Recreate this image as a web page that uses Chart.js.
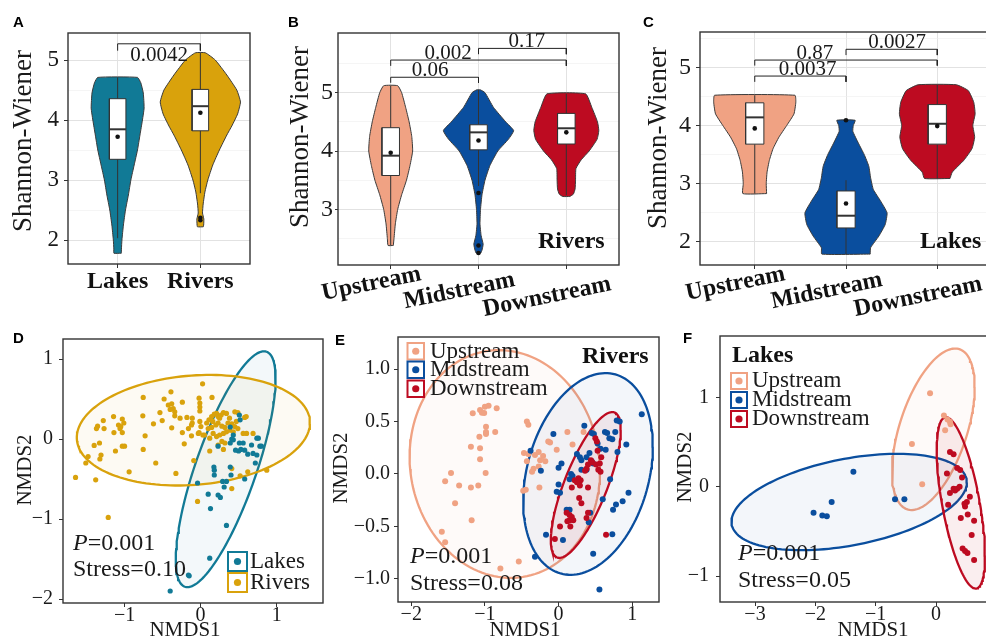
<!DOCTYPE html>
<html>
<head>
<meta charset="utf-8">
<script src="https://cdn.jsdelivr.net/npm/chart.js@4.4.1/dist/chart.umd.min.js"></script>
<style>
  html, body { margin:0; padding:0; background:#fff; }
  body { width:986px; height:640px; overflow:hidden; position:relative; }
  canvas { position:absolute; display:block; }
</style>
</head>
<body>
<canvas id="cA"></canvas><canvas id="cB"></canvas><canvas id="cC"></canvas>
<canvas id="cD"></canvas><canvas id="cE"></canvas><canvas id="cF"></canvas>
<script>
// ================= DATA =================
// ---- Panel A : Lakes vs Rivers (Shannon-Wiener)
const catsA = ['Lakes', 'Rivers'];
const yTicksA = [2, 3, 4, 5];
const yMinorA = [2.5, 3.5, 4.5];
const vioLakesY = [1.78, 1.85, 2.0, 2.25, 2.5, 2.75, 3.0, 3.25, 3.5, 3.75, 4.0, 4.2, 4.45, 4.62, 4.71];
const vioLakesW = [0.045, 0.046, 0.052, 0.07, 0.095, 0.13, 0.16, 0.20, 0.24, 0.27, 0.30, 0.32, 0.31, 0.28, 0.24];
const vioRiversY = [2.22, 2.25, 2.35, 2.45, 2.6, 2.8, 3.0, 3.25, 3.5, 3.75, 3.9, 4.1, 4.3, 4.5, 4.75, 5.0, 5.12];
const vioRiversW = [0.035, 0.04, 0.042, 0.026, 0.034, 0.055, 0.09, 0.15, 0.23, 0.32, 0.38, 0.45, 0.485, 0.44, 0.32, 0.18, 0.06];
// box stats: [lower whisker, Q1, median, Q3, upper whisker, mean]
const boxLakes = [2.03, 3.345, 3.845, 4.355, 4.71, 3.72];
const boxRivers = [2.78, 3.82, 4.23, 4.51, 5.12, 4.12];
const outLakes = [];
const outRivers = [2.37, 2.33];
// significance: [group1, group2, bracket y, tick end y, label, label x, label baseline y]
const sigA = [[1, 2, 5.27, 5.155, '0.0042', 1.5, 4.98]];

// ---- Panel B : Rivers by reach
const catsB = ['Upstream', 'Midstream', 'Downstream'];
const yTicksB = [3, 4, 5];
const yMinorB = [2.5, 3.5, 4.5, 5.5];
const vioUpBY = [2.38, 2.5, 2.75, 3.0, 3.25, 3.5, 3.75, 4.0, 4.25, 4.5, 4.75, 5.0, 5.12];
const vioUpBW = [0.03, 0.038, 0.053, 0.08, 0.125, 0.18, 0.22, 0.25, 0.24, 0.21, 0.17, 0.125, 0.08];
const vioMidBY = [2.25, 2.3, 2.4, 2.55, 2.75, 3.0, 3.25, 3.5, 3.75, 4.0, 4.2, 4.35, 4.5, 4.75, 5.0, 5.05];
const vioMidBW = [0.027, 0.04, 0.053, 0.03, 0.017, 0.023, 0.04, 0.074, 0.13, 0.22, 0.34, 0.40, 0.31, 0.17, 0.074, 0.02];
const vioDownBY = [3.22, 3.26, 3.35, 3.5, 3.7, 3.85, 4.0, 4.2, 4.35, 4.5, 4.75, 4.98];
const vioDownBW = [0.04, 0.08, 0.1, 0.105, 0.11, 0.17, 0.26, 0.35, 0.37, 0.355, 0.29, 0.22];
const boxUpB = [2.38, 3.58, 3.92, 4.40, 5.12, 3.97];
const boxMidB = [3.4, 4.02, 4.32, 4.45, 5.05, 4.18];
const boxDownB = [3.24, 4.12, 4.39, 4.645, 4.98, 4.32];
const outUpB = [];
const outMidB = [3.28, 2.38, 2.25];
const outDownB = [];
const sigB = [[1, 2, 5.265, 5.17, '0.06', 1.448, 5.285], [1, 3, 5.56, 5.46, '0.002', 1.653, 5.58], [2, 3, 5.76, 5.66, '0.17', 2.55, 5.78]];

// ---- Panel C : Lakes by reach
const catsC = ['Upstream', 'Midstream', 'Downstream'];
const yTicksC = [2, 3, 4, 5];
const yMinorC = [2.5, 3.5, 4.5, 5.5];
const vioUpCY = [2.83, 3.0, 3.2, 3.4, 3.6, 3.8, 4.0, 4.2, 4.4, 4.52];
const vioUpCW = [0.13, 0.126, 0.135, 0.16, 0.2, 0.265, 0.35, 0.43, 0.45, 0.44];
const vioMidCY = [1.79, 1.9, 2.1, 2.3, 2.5, 2.7, 2.9, 3.1, 3.3, 3.5, 3.7, 3.9, 4.0, 4.09];
const vioMidCW = [0.265, 0.27, 0.36, 0.43, 0.45, 0.38, 0.30, 0.27, 0.25, 0.20, 0.135, 0.075, 0.08, 0.10];
const vioDownCY = [3.09, 3.2, 3.4, 3.6, 3.8, 4.0, 4.2, 4.4, 4.6, 4.70];
const vioDownCW = [0.14, 0.165, 0.29, 0.38, 0.41, 0.39, 0.415, 0.40, 0.34, 0.21];
const boxUpC = [2.83, 3.68, 4.14, 4.39, 4.52, 3.95];
const boxMidC = [1.79, 2.24, 2.45, 2.875, 3.06, 2.66];
const boxDownC = [3.09, 3.68, 4.03, 4.36, 4.70, 3.99];
const outUpC = [];
const outMidC = [4.09];
const outDownC = [];
const sigC = [[1, 2, 4.85, 4.75, '0.0037', 1.58, 4.87], [1, 3, 5.125, 5.03, '0.87', 1.66, 5.145], [2, 3, 5.31, 5.21, '0.0027', 2.56, 5.33]];

// ---- Panel D : NMDS all sites
const xTicksD = [-1, 0, 1];
const yTicksD = [-2, -1, 0, 1];
const dRivers = [[-1.645,-0.48],[-1.38,-0.51],[-1.51,-0.30],[-1.48,-0.22],[-1.325,-0.25],[-1.31,-0.20],[-1.40,-0.08],[-1.33,-0.05],[-1.37,0.13],[-1.355,0.16],[-1.27,0.13],[-1.28,0.23],[-1.145,0.28],[-1.14,0.08],[-1.08,0.175],[-1.05,0.155],[-1.03,0.25],[-1.01,0.20],[-1.03,0.08],[-1.06,0.13],[-1.12,-0.15],[-1.03,-0.09],[-1.00,-0.09],[-0.94,-0.41],[-0.755,0.52],[-0.76,0.29],[-0.73,0.04],[-0.755,-0.13],[-0.59,-0.30],[-0.62,0.19],[-0.535,0.33],[-0.505,0.23],[-0.48,0.50],[-0.39,0.59],[-0.425,0.425],[-0.38,0.44],[-0.36,0.38],[-0.34,0.34],[-0.40,0.37],[-0.24,0.46],[-0.34,0.29],[-0.38,0.14],[-0.27,0.26],[-0.18,0.27],[-0.24,0.08],[-0.215,-0.06],[-0.16,0.13],[-0.12,0.175],[-0.11,0.26],[-0.12,0.04],[-0.325,-0.43],[-0.09,-0.27],[-0.04,-0.78],[-1.215,-0.98],
  [0.026,0.69],[-0.02,0.51],[-0.01,0.45],[-0.01,0.40],[-0.01,0.35],[0.15,0.52],[-0.11,0.20],[-0.01,0.22],[0.004,0.155],[-0.02,0.08],[0.05,0.05],[0.08,0.20],[0.11,0.24],[0.145,0.28],[0.18,0.31],[0.21,0.32],[0.23,0.28],[0.27,0.30],[0.30,0.33],[0.34,0.32],[0.45,0.34],[0.49,0.33],[0.58,0.27],[0.10,0.13],[0.145,0.145],[0.20,0.175],[0.23,0.20],[0.28,0.16],[0.32,0.145],[0.36,0.20],[0.41,0.19],[0.45,0.155],[0.49,0.13],[0.47,0.22],[0.165,0.07],[0.21,0.03],[0.25,0.05],[0.30,0.07],[0.34,0.09],[0.385,0.11],[0.43,0.09],[0.12,0.01],[0.03,0.05],[-0.03,0.07],[0.28,-0.03],[0.32,-0.05],[0.23,-0.075],[0.12,-0.15],[0.30,-0.13],[0.41,-0.37],[0.52,-0.46],[0.62,-0.41],[0.41,-0.62],[0.60,0.28],[0.605,0.07],[0.87,-0.39],[0.69,0.07],[0.56,0.07],[0.25,0.26],[0.38,0.26],[0.16,0.22]];
const dLakes = [[0.51,0.30],[0.52,0.24],[0.39,0.15],[0.43,0.05],[0.41,0.00],[0.39,-0.05],[0.23,-0.09],[0.51,-0.05],[0.76,0.01],[0.78,-0.09],[0.67,-0.075],[0.74,-0.20],[0.72,-0.30],[0.58,-0.14],[0.50,-0.15],[0.175,-0.35],[0.18,-0.45],[0.39,-0.35],[0.40,-0.45],[0.29,-0.53],[0.34,-0.53],[0.10,-0.69],[0.23,-0.70],[0.26,-0.73],[-0.04,-0.55],[0.13,-0.87],[0.34,-1.08],[0.12,-1.49],[-0.16,-1.70],[-0.15,-1.71],[-0.40,-1.90],[0.56,-0.05],[0.80,-0.09],[0.53,-0.13],[0.46,-0.14],[0.62,-0.19],[0.69,-0.18],[0.31,-0.60],[0.58,-0.50],[0.74,0.01],[0.43,-0.01],[0.18,-0.39]];
// ellipse: [centre x, centre y, axis-1 dx, axis-1 dy, axis-2 dx, axis-2 dy]
const ellRiversD = [-0.095, 0.11, 1.533, 0.076, 0.038, 0.687];
const ellLakesD = [0.33, -0.378, 0.537, 1.469, 0.378, -0.125];

// ---- Panel E : NMDS rivers
const xTicksE = [-2, -1, 0, 1];
const yTicksE = [-1, -0.5, 0, 0.5, 1];
const eUp = [[-1.165,0.578],[-1.066,0.61],[-1.04,0.584],[-1.00,0.64],[-0.95,0.65],[-1.01,0.58],[-0.84,0.625],[-0.985,0.45],[-0.985,0.40],[-0.985,0.38],[-0.86,0.40],[-1.075,0.355],[-1.19,0.26],[-1.066,0.245],[-1.066,0.14],[-0.99,0.01],[-1.09,-0.11],[-1.19,-0.13],[-1.35,-0.11],[-1.46,0.01],[-1.54,-0.07],[-1.405,-0.28],[-1.18,-0.44],[-1.585,-0.55],[-1.54,-0.65],[-0.79,-0.90],[-0.54,-0.835],[-0.43,0.50],[-0.41,0.47],[-0.47,0.20],[-0.43,0.12],[-0.445,-0.15],[-0.115,0.30],[-0.025,0.23],[0.12,0.40],[0.34,0.40],[0.19,0.28],[-0.41,0.19],[-0.32,0.18],[-0.27,0.21],[-0.21,0.17],[-0.25,0.13],[-0.18,0.12],[-0.34,0.05],[-0.36,0.02],[-0.27,0.07],[-0.26,-0.13],[-0.14,0.31],[-0.48,-0.16]];
const eMid = [[1.13,0.57],[0.79,0.51],[0.83,0.50],[0.35,0.46],[-0.07,0.38],[0.45,0.39],[0.48,0.38],[0.63,0.40],[0.66,0.39],[0.77,0.40],[0.69,0.34],[0.73,0.33],[0.53,0.29],[0.57,0.24],[0.92,0.28],[0.80,0.21],[0.64,0.23],[0.25,0.19],[0.29,0.16],[0.31,0.13],[0.42,0.20],[0.45,0.12],[0.47,0.10],[0.38,0.16],[-0.38,0.22],[0.04,0.10],[0.00,0.06],[-0.24,0.03],[0.31,0.04],[0.38,0.04],[0.17,0.00],[0.19,-0.02],[0.15,-0.05],[0.00,-0.10],[0.70,-0.05],[-0.025,-0.17],[0.02,-0.18],[0.60,-0.24],[0.95,-0.18],[0.87,-0.26],[0.78,-0.29],[0.74,-0.34],[0.11,-0.34],[0.15,-0.34],[0.43,-0.37],[0.41,-0.46],[-0.17,-0.58],[0.06,-0.63],[0.73,-0.575],[0.47,-0.76],[-0.32,-0.79],[0.555,-1.10]];
const eDown = [[0.50,0.34],[0.52,0.31],[0.53,0.22],[0.58,0.16],[0.44,0.13],[0.46,0.11],[0.40,0.09],[0.51,0.09],[0.56,0.10],[0.54,0.04],[0.57,0.02],[0.38,0.05],[0.36,0.03],[0.27,-0.04],[0.30,-0.06],[0.22,-0.06],[0.25,-0.08],[0.18,-0.13],[0.29,-0.11],[0.40,-0.13],[0.28,-0.23],[0.31,-0.28],[0.11,-0.37],[0.15,-0.39],[0.18,-0.41],[0.15,-0.44],[0.12,-0.45],[0.20,-0.44],[0.40,-0.37],[0.38,-0.42],[0.02,-0.50],[0.16,-0.50],[-0.05,-0.62],[0.645,-0.58]];
const ellUpE = [-0.73, 0.095, 1.29, 0.0, -0.08, 1.085];
const ellMidE = [0.40, 0.0, 0.88, 0.26, 0.0, 0.925];
const ellDownE = [0.37, -0.105, 0.475, 0.525, 0.0, 0.455];

// ---- Panel F : NMDS lakes
const xTicksF = [-3, -2, -1, 0, 1];
const yTicksF = [-1, 0, 1];
const fUp = [[-0.10,1.05],[0.13,0.80],[0.23,0.73],[0.24,0.70],[0.15,0.635],[-0.40,0.48],[-0.23,0.03],[0.19,0.755]];
const fMid = [[-1.37,0.17],[-1.73,-0.17],[-2.03,-0.29],[-1.885,-0.32],[-1.81,-0.33],[-0.68,-0.14],[-0.525,-0.14]];
const fDown = [[0.23,0.39],[0.29,0.366],[0.18,0.15],[0.35,0.21],[0.40,0.19],[0.43,0.105],[0.29,-0.02],[0.315,-0.04],[0.35,-0.02],[0.39,0.0],[0.23,-0.07],[0.20,-0.20],[0.56,-0.11],[0.51,-0.17],[0.48,-0.22],[0.47,-0.19],[0.41,-0.35],[0.525,-0.31],[0.63,-0.38],[0.59,-0.54],[0.44,-0.69],[0.48,-0.72],[0.52,-0.74],[0.63,-0.82]];
const ellUpF = [-0.045, 0.645, 0.685, 0.475, 0.0, 0.77];
const ellMidF = [-1.44, -0.17, 1.95, 0.22, 0.0, 0.493];
const ellDownF = [0.41, -0.18, 0.40, -0.59, 0.0, 0.757];

// ================= STYLE =================
const SERIF = "'Liberation Serif','Times New Roman',serif";
const SANS = "'Liberation Sans',Arial,sans-serif";
const INK = '#1a1a1a';
const C_LAKES = '#117A96', C_RIVERS = '#D9A20C';
const C_UP = '#F0A283', C_MID = '#0A4E9E', C_DOWN = '#BD0B21';
Chart.defaults.font.family = SERIF;

function rgba(hex, a) {
  const n = parseInt(hex.slice(1), 16);
  return `rgba(${(n >> 16) & 255},${(n >> 8) & 255},${n & 255},${a})`;
}
const fmtInt = v => (v < 0 ? '\u2212' : '') + Math.abs(v);
const fmt1 = v => (v < 0 ? '\u2212' : '') + Math.abs(v).toFixed(1);

// ================= BUILDERS =================
function violin(c, ys, ws, color) {
  const p = [];
  for (let i = 0; i < ys.length; i++) p.push({x: c + ws[i], y: ys[i]});
  for (let i = ys.length - 1; i >= 0; i--) p.push({x: c - ws[i], y: ys[i]});
  p.push(p[0]);
  return {data: p, showLine: true, fill: 'shape', backgroundColor: color, borderColor: '#3a3a3a',
          borderWidth: 1, pointRadius: 0, tension: 0.15, borderJoinStyle: 'round', order: 6};
}
function boxSets(c, b, outs) {
  const hw = 0.1;
  const [lo, q1, med, q3, hi, mean] = b;
  return [
    {data: [{x: c, y: lo}, {x: c, y: hi}], showLine: true, borderColor: '#333', borderWidth: 1, pointRadius: 0, order: 4},
    {data: [{x: c - hw, y: q1}, {x: c + hw, y: q1}, {x: c + hw, y: q3}, {x: c - hw, y: q3}, {x: c - hw, y: q1}],
     showLine: true, fill: 'shape', backgroundColor: '#ffffff', borderColor: '#333', borderWidth: 1, pointRadius: 0, order: 3},
    {data: [{x: c - hw, y: med}, {x: c + hw, y: med}], showLine: true, borderColor: '#333', borderWidth: 2, pointRadius: 0, order: 2},
    {data: [{x: c, y: mean}].concat(outs.map(o => ({x: c, y: o}))), showLine: false, pointRadius: 2.3,
     pointBackgroundColor: '#111', pointBorderWidth: 0, order: 1}
  ];
}
function bracket(s) {
  return {data: [{x: s[0], y: s[3]}, {x: s[0], y: s[2]}, {x: s[1], y: s[2]}, {x: s[1], y: s[3]}],
          showLine: true, borderColor: '#222', borderWidth: 1, pointRadius: 0, order: 1};
}
function ellipse(e, color, a) {
  const [cx, cy, ux, uy, vx, vy] = e;
  const p = [];
  for (let k = 0; k <= 144; k++) {
    const t = k / 144 * 2 * Math.PI;
    p.push({x: cx + ux * Math.cos(t) + vx * Math.sin(t), y: cy + uy * Math.cos(t) + vy * Math.sin(t)});
  }
  return {data: p, showLine: true, fill: 'shape', backgroundColor: rgba(color, a), borderColor: color,
          borderWidth: 2.3, pointRadius: 0, order: 5};
}
function dots(arr, color, r, order) {
  return {data: arr.map(q => ({x: q[0], y: q[1]})), showLine: false, pointRadius: r,
          pointBackgroundColor: color, pointBorderColor: color, pointBorderWidth: 0, order};
}
function axisCfg(o) {
  const major = o.ticks, all = major.concat(o.minor || []).sort((a, b) => a - b);
  const isMaj = v => major.includes(v);
  return {
    min: o.min, max: o.max,
    afterBuildTicks: s => { s.ticks = all.map(v => ({value: v})); },
    ticks: {display: o.show !== false, autoSkip: false, maxRotation: 0, minRotation: 0, padding: o.pad,
            color: INK, font: {family: SERIF, size: o.size}, callback: v => isMaj(v) ? o.fmt(v) : ''},
    grid: o.grid ? {
      color: c => (c.tick && isMaj(c.tick.value)) ? '#e2e2e2' : '#efefef',
      lineWidth: c => (c.tick && isMaj(c.tick.value)) ? 1 : 0.6,
      tickColor: c => (c.tick && isMaj(c.tick.value)) ? '#333' : 'rgba(0,0,0,0)',
      tickLength: o.tl, tickWidth: 1
    } : {drawOnChartArea: false, tickColor: '#333', tickLength: o.tl, tickWidth: 1}
  };
}
function makeChart(id, box, area, xs, ys, datasets, decor) {
  const [ox, oy, w, h] = box;
  const cv = document.getElementById(id);
  cv.width = w; cv.height = h;
  Object.assign(cv.style, {left: ox + 'px', top: oy + 'px', width: w + 'px', height: h + 'px'});
  const L = area[0] - ox, T = area[1] - oy, R = ox + w - area[2], Bm = oy + h - area[3];
  const zero = s => { s.paddingLeft = s.paddingRight = s.paddingTop = s.paddingBottom = 0; };
  return new Chart(cv, {
    type: 'scatter',
    data: {datasets},
    options: {
      responsive: false, animation: false, devicePixelRatio: 1, events: [],
      layout: {padding: {left: 0, top: T, right: R, bottom: 0}, autoPadding: false},
      plugins: {legend: {display: false}, tooltip: {enabled: false}},
      scales: {
        x: Object.assign({type: 'linear', position: 'bottom', border: {display: false},
                          afterFit: s => { s.height = Bm; zero(s); }}, xs),
        y: Object.assign({type: 'linear', position: 'left', border: {display: false},
                          afterFit: s => { s.width = L; zero(s); }}, ys)
      }
    },
    plugins: [{id: 'decor' + id, afterDraw(chart) { decor(chart, chart.ctx, ox, oy); }}]
  });
}

// ================= DRAW HELPERS =================
function T(ctx, ox, oy, s, x, y, o) {
  o = o || {};
  ctx.save();
  ctx.font = o.font || `22px ${SERIF}`;
  ctx.fillStyle = o.color || INK;
  ctx.textAlign = o.align || 'left';
  ctx.textBaseline = o.base || 'alphabetic';
  ctx.translate(x - ox, y - oy);
  if (o.rot) ctx.rotate(o.rot);
  ctx.fillText(s, 0, 0);
  ctx.restore();
}
function frame(chart, ctx) {
  const a = chart.chartArea;
  ctx.save(); ctx.strokeStyle = '#333'; ctx.lineWidth = 1.4;
  ctx.strokeRect(a.left, a.top, a.right - a.left, a.bottom - a.top); ctx.restore();
}
function sigLabels(chart, ctx, sig) {
  const xs = chart.scales.x, ys = chart.scales.y;
  sig.forEach(s => T(ctx, 0, 0, s[4], xs.getPixelForValue(s[5]), ys.getPixelForValue(s[6]),
                     {font: `21px ${SERIF}`, align: 'center'}));
}
function slantLabels(chart, ctx, cats, oy) {
  const xs = chart.scales.x;
  const dy = [290, 297, 303];
  cats.forEach((c, i) => T(ctx, 0, oy, c, xs.getPixelForValue(i + 1) - 18, dy[i],
      {font: `bold 24px ${SERIF}`, align: 'center', color: '#111', rot: -11.5 * Math.PI / 180}));
}
function pStress(ctx, ox, oy, x, y1, y2, stress) {
  ctx.save();
  ctx.font = `italic 24px ${SERIF}`;
  const wP = ctx.measureText('P').width;
  ctx.restore();
  T(ctx, ox, oy, 'P', x, y1, {font: `italic 24px ${SERIF}`});
  T(ctx, ox, oy, '=0.001', x + wP, y1, {font: `24px ${SERIF}`});
  T(ctx, ox, oy, 'Stress=' + stress, x, y2, {font: `24px ${SERIF}`});
}
function legBox(ctx, ox, oy, x, y, s, color) {
  ctx.save();
  ctx.strokeStyle = color; ctx.lineWidth = 2;
  ctx.strokeRect(x - ox, y - oy, s, s);
  ctx.fillStyle = color; ctx.beginPath();
  ctx.arc(x - ox + s / 2, y - oy + s / 2, 3.6, 0, Math.PI * 2); ctx.fill();
  ctx.restore();
}
const ROT90 = -Math.PI / 2;

// ================= PANEL A =================
makeChart('cA', [0, 0, 256, 320], [68, 33, 250, 264],
  axisCfg({min: 0.4, max: 2.6, ticks: [1, 2], fmt: v => catsA[v - 1], size: 24, pad: 4, tl: 4, grid: true, show: false}),
  axisCfg({min: 1.6, max: 5.45, ticks: yTicksA, minor: yMinorA, fmt: fmtInt, size: 23, pad: 5, tl: 4, grid: true}),
  [violin(1, vioLakesY, vioLakesW, C_LAKES), violin(2, vioRiversY, vioRiversW, C_RIVERS)]
    .concat(boxSets(1, boxLakes, outLakes), boxSets(2, boxRivers, outRivers), sigA.map(bracket)),
  (chart, ctx, ox, oy) => {
    frame(chart, ctx);
    T(ctx, ox, oy, 'A', 13, 27, {font: `bold 15px ${SANS}`, color: '#000'});
    T(ctx, ox, oy, 'Shannon-Wiener', 24, 141, {font: `27px ${SERIF}`, align: 'center', base: 'middle', rot: ROT90});
    const xs = chart.scales.x;
    catsA.forEach((c, i) => T(ctx, 0, oy, c, xs.getPixelForValue(i + 1), 288, {font: `bold 24px ${SERIF}`, align: 'center', color: '#111'}));
    sigLabels(chart, ctx, sigA);
  });

// ================= PANEL B =================
makeChart('cB', [256, 0, 366, 320], [338, 33, 619, 265],
  axisCfg({min: 0.4, max: 3.6, ticks: [1, 2, 3], fmt: v => catsB[v - 1], size: 24, pad: 4, tl: 4, grid: true, show: false}),
  axisCfg({min: 2.045, max: 6.024, ticks: yTicksB, minor: yMinorB, fmt: fmtInt, size: 24, pad: 2, tl: 3, grid: true}),
  [violin(1, vioUpBY, vioUpBW, C_UP), violin(2, vioMidBY, vioMidBW, C_MID), violin(3, vioDownBY, vioDownBW, C_DOWN)]
    .concat(boxSets(1, boxUpB, outUpB), boxSets(2, boxMidB, outMidB), boxSets(3, boxDownB, outDownB), sigB.map(bracket)),
  (chart, ctx, ox, oy) => {
    frame(chart, ctx);
    T(ctx, ox, oy, 'B', 288, 27, {font: `bold 15px ${SANS}`, color: '#000'});
    T(ctx, ox, oy, 'Shannon-Wiener', 301, 137, {font: `27px ${SERIF}`, align: 'center', base: 'middle', rot: ROT90});
    slantLabels(chart, ctx, catsB, oy);
    sigLabels(chart, ctx, sigB);
    T(ctx, ox, oy, 'Rivers', 538, 248, {font: `bold 24px ${SERIF}`, color: '#111'});
  });

// ================= PANEL C =================
makeChart('cC', [622, 0, 380, 320], [700, 32, 992, 265],
  axisCfg({min: 0.4, max: 3.6, ticks: [1, 2, 3], fmt: v => catsC[v - 1], size: 24, pad: 4, tl: 4, grid: true, show: false}),
  axisCfg({min: 1.603, max: 5.607, ticks: yTicksC, minor: yMinorC, fmt: fmtInt, size: 24, pad: 5, tl: 4, grid: true}),
  [violin(1, vioUpCY, vioUpCW, C_UP), violin(2, vioMidCY, vioMidCW, C_MID), violin(3, vioDownCY, vioDownCW, C_DOWN)]
    .concat(boxSets(1, boxUpC, outUpC), boxSets(2, boxMidC, outMidC), boxSets(3, boxDownC, outDownC), sigC.map(bracket)),
  (chart, ctx, ox, oy) => {
    frame(chart, ctx);
    T(ctx, ox, oy, 'C', 643, 27, {font: `bold 15px ${SANS}`, color: '#000'});
    T(ctx, ox, oy, 'Shannon-Wiener', 659, 138, {font: `27px ${SERIF}`, align: 'center', base: 'middle', rot: ROT90});
    slantLabels(chart, ctx, catsC, oy);
    sigLabels(chart, ctx, sigC);
    T(ctx, ox, oy, 'Lakes', 920, 248, {font: `bold 24px ${SERIF}`, color: '#111'});
  });

// ================= PANEL D =================
makeChart('cD', [0, 320, 330, 320], [63, 339, 323, 603],
  axisCfg({min: -1.81, max: 1.61, ticks: xTicksD, fmt: fmtInt, size: 20, pad: -3, tl: 4, grid: false}),
  axisCfg({min: -2.05, max: 1.25, ticks: yTicksD, fmt: fmtInt, size: 20, pad: 6, tl: 4, grid: false}),
  [dots(dLakes, C_LAKES, 2.6, 0), dots(dRivers, C_RIVERS, 2.6, 1),
   ellipse(ellRiversD, C_RIVERS, 0.05), ellipse(ellLakesD, C_LAKES, 0.05)],
  (chart, ctx, ox, oy) => {
    frame(chart, ctx);
    T(ctx, ox, oy, 'D', 13, 343, {font: `bold 15px ${SANS}`, color: '#000'});
    T(ctx, ox, oy, 'NMDS1', 185, 630, {font: `21px ${SERIF}`, align: 'center', base: 'middle'});
    T(ctx, ox, oy, 'NMDS2', 25, 470, {font: `21px ${SERIF}`, align: 'center', base: 'middle', rot: ROT90});
    pStress(ctx, ox, oy, 73, 550, 576, '0.10');
    legBox(ctx, ox, oy, 228, 552, 19, C_LAKES);
    legBox(ctx, ox, oy, 228, 573, 19, C_RIVERS);
    T(ctx, ox, oy, 'Lakes', 250, 562, {font: `23px ${SERIF}`, base: 'middle'});
    T(ctx, ox, oy, 'Rivers', 250, 583, {font: `23px ${SERIF}`, base: 'middle'});
  });

// ================= PANEL E =================
makeChart('cE', [330, 320, 332, 320], [398, 337, 659, 602],
  axisCfg({min: -2.18, max: 1.364, ticks: xTicksE, fmt: fmtInt, size: 20, pad: -3, tl: 4, grid: false}),
  axisCfg({min: -1.22, max: 1.305, ticks: yTicksE, fmt: fmt1, size: 20, pad: 4, tl: 4, grid: false}),
  [dots(eDown, C_DOWN, 3, 0), dots(eMid, C_MID, 3, 1), dots(eUp, C_UP, 3, 2),
   ellipse(ellDownE, C_DOWN, 0.07), ellipse(ellMidE, C_MID, 0.05), ellipse(ellUpE, C_UP, 0.05)],
  (chart, ctx, ox, oy) => {
    frame(chart, ctx);
    T(ctx, ox, oy, 'E', 335, 345, {font: `bold 15px ${SANS}`, color: '#000'});
    T(ctx, ox, oy, 'NMDS1', 525, 630, {font: `21px ${SERIF}`, align: 'center', base: 'middle'});
    T(ctx, ox, oy, 'NMDS2', 341, 468, {font: `21px ${SERIF}`, align: 'center', base: 'middle', rot: ROT90});
    pStress(ctx, ox, oy, 410, 563, 590, '0.08');
    T(ctx, ox, oy, 'Rivers', 582, 363, {font: `bold 24px ${SERIF}`, color: '#111'});
    const cols = [C_UP, C_MID, C_DOWN], ys = [343, 361.5, 380.5], ty = [352, 370, 389];
    catsB.forEach((c, i) => { legBox(ctx, ox, oy, 407.5, ys[i], 16.5, cols[i]);
      T(ctx, ox, oy, c, 430, ty[i], {font: `23px ${SERIF}`, base: 'middle'}); });
  });

// ================= PANEL F =================
makeChart('cF', [662, 320, 380, 320], [720, 336, 1026, 602],
  axisCfg({min: -3.58, max: 1.49, ticks: xTicksF, fmt: fmtInt, size: 20, pad: -3, tl: 4, grid: false}),
  axisCfg({min: -1.29, max: 1.69, ticks: yTicksF, fmt: fmtInt, size: 20, pad: 7, tl: 4, grid: false}),
  [dots(fDown, C_DOWN, 3, 0), dots(fMid, C_MID, 3, 1), dots(fUp, C_UP, 3, 2),
   ellipse(ellDownF, C_DOWN, 0.07), ellipse(ellMidF, C_MID, 0.05), ellipse(ellUpF, C_UP, 0.05)],
  (chart, ctx, ox, oy) => {
    frame(chart, ctx);
    T(ctx, ox, oy, 'F', 683, 343, {font: `bold 15px ${SANS}`, color: '#000'});
    T(ctx, ox, oy, 'NMDS1', 873, 630, {font: `21px ${SERIF}`, align: 'center', base: 'middle'});
    T(ctx, ox, oy, 'NMDS2', 685, 467, {font: `21px ${SERIF}`, align: 'center', base: 'middle', rot: ROT90});
    pStress(ctx, ox, oy, 738, 560, 587, '0.05');
    T(ctx, ox, oy, 'Lakes', 732, 362, {font: `bold 24px ${SERIF}`, color: '#111'});
    const cols = [C_UP, C_MID, C_DOWN], ys = [373, 392, 411], ty = [381, 400, 419];
    catsC.forEach((c, i) => { legBox(ctx, ox, oy, 731, ys[i], 16, cols[i]);
      T(ctx, ox, oy, c, 752, ty[i], {font: `23px ${SERIF}`, base: 'middle'}); });
  });
</script>
</body>
</html>
